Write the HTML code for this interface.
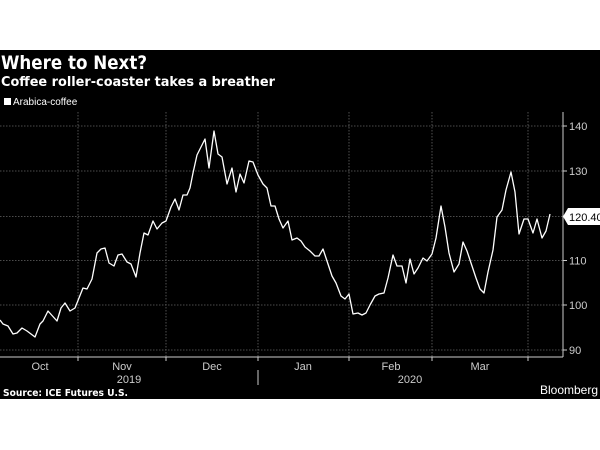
<!DOCTYPE html>
<html><head><style>
html,body{margin:0;padding:0;background:#fff;}
svg{display:block;}
</style></head><body>
<svg width="600" height="450" viewBox="0 0 600 450" xmlns="http://www.w3.org/2000/svg" font-family="Liberation Sans, DejaVu Sans, sans-serif">
<rect x="0" y="0" width="600" height="450" fill="#fff"/>
<rect x="0" y="50" width="600" height="349" fill="#000"/>
<text x="1" y="69" fill="#fff" font-size="19" font-weight="bold" style="font-family:'DejaVu Sans',sans-serif" textLength="146" lengthAdjust="spacingAndGlyphs">Where to Next?</text>
<text x="1" y="86" fill="#fff" font-size="13.5" font-weight="bold" style="font-family:'DejaVu Sans',sans-serif" textLength="274" lengthAdjust="spacingAndGlyphs">Coffee roller-coaster takes a breather</text>
<rect x="4" y="98" width="7" height="7" fill="#fff"/>
<text x="13" y="105" fill="#fff" font-size="10">Arabica-coffee</text>
<g stroke="#666" stroke-width="0.8" stroke-dasharray="1.5,1.5">
<line x1="0" y1="126" x2="563" y2="126"/>
<line x1="0" y1="171" x2="563" y2="171"/>
<line x1="0" y1="216.5" x2="563" y2="216.5"/>
<line x1="0" y1="260.5" x2="563" y2="260.5"/>
<line x1="0" y1="305" x2="563" y2="305"/>
<line x1="0" y1="350" x2="563" y2="350"/>
<line x1="78" y1="112" x2="78" y2="357"/>
<line x1="166" y1="112" x2="166" y2="357"/>
<line x1="258" y1="112" x2="258" y2="357"/>
<line x1="349" y1="112" x2="349" y2="357"/>
<line x1="432" y1="112" x2="432" y2="357"/>
<line x1="528" y1="112" x2="528" y2="357"/>
</g>
<g stroke="#ccc" stroke-width="1">
<line x1="0" y1="357" x2="563" y2="357"/>
<line x1="563" y1="112" x2="563" y2="357"/>
<line x1="563" y1="126" x2="567" y2="126"/>
<line x1="563" y1="171" x2="567" y2="171"/>
<line x1="563" y1="260.5" x2="567" y2="260.5"/>
<line x1="563" y1="305" x2="567" y2="305"/>
<line x1="563" y1="350" x2="567" y2="350"/>
<line x1="78" y1="357" x2="78" y2="361"/>
<line x1="166" y1="357" x2="166" y2="361"/>
<line x1="258" y1="357" x2="258" y2="361"/>
<line x1="349" y1="357" x2="349" y2="361"/>
<line x1="432" y1="357" x2="432" y2="361"/>
<line x1="528" y1="357" x2="528" y2="361"/>
<line x1="258" y1="370" x2="258" y2="385"/>
</g>
<g fill="#ccc" font-size="11">
<text x="569" y="130">140</text>
<text x="569" y="175">130</text>
<text x="569" y="264.5">110</text>
<text x="569" y="309">100</text>
<text x="569" y="354">90</text>
</g>
<g fill="#ccc" font-size="11" text-anchor="middle">
<text x="40" y="370">Oct</text>
<text x="122" y="370">Nov</text>
<text x="212" y="370">Dec</text>
<text x="303" y="370">Jan</text>
<text x="391" y="370">Feb</text>
<text x="480" y="370">Mar</text>
<text x="129" y="383">2019</text>
<text x="410" y="383">2020</text>
</g>
<polygon points="563,216.5 568,208 600,208 600,225 568,225" fill="#fff"/>
<text x="569" y="221" fill="#000" font-size="11">120.40</text>
<polyline fill="none" stroke="#fff" stroke-width="1.3" stroke-linejoin="round" points="0,320 3,324 8,326 13,334 17,333 22,328 27,331 35,337 40,324 43,321 48,311 57,321 61,308 65,303 70,311 75,308 83,288 87,289 92,279 97,253 101,249 105,248 109,263 114,266 118,255 122,254 127,262 131,264 136,277 140,253 144,233 148,235 153,221 157,229 162,223 166,221 171,207 175,199 179,210 183,195 187,195 190,188 193,173 197,155 205,139 209,168 214,131 218,154 222,157 227,184 232,168 236,192 240,174 244,183 249,161 253,162 258,175 263,184 267,188 271,206 275,206 279,219 283,228 288,221 292,240 297,238 301,241 305,247 310,251 315,256 319,256 323,249 327,261 332,276 336,283 341,296 345,299 349,294 353,314 358,313 362,315 366,313 370,305 375,296 379,294 384,293 388,278 393,255 397,266 402,266 406,283 410,259 414,274 418,268 423,258 427,261 432,254 436,238 441,206 445,227 449,253 454,272 459,264 463,242 467,251 472,266 476,278 480,289 484,293 488,272 493,250 497,217 502,210 506,190 511,172 515,192 519,234 524,219 528,219 533,233 537,219 542,238 546,231 550,214"/>
<text x="3" y="396" fill="#fff" font-size="9.5" font-weight="bold" style="font-family:'DejaVu Sans',sans-serif" textLength="125" lengthAdjust="spacingAndGlyphs">Source: ICE Futures U.S.</text>
<text x="598" y="394" fill="#fff" font-size="12" text-anchor="end">Bloomberg</text>
</svg>
</body></html>
